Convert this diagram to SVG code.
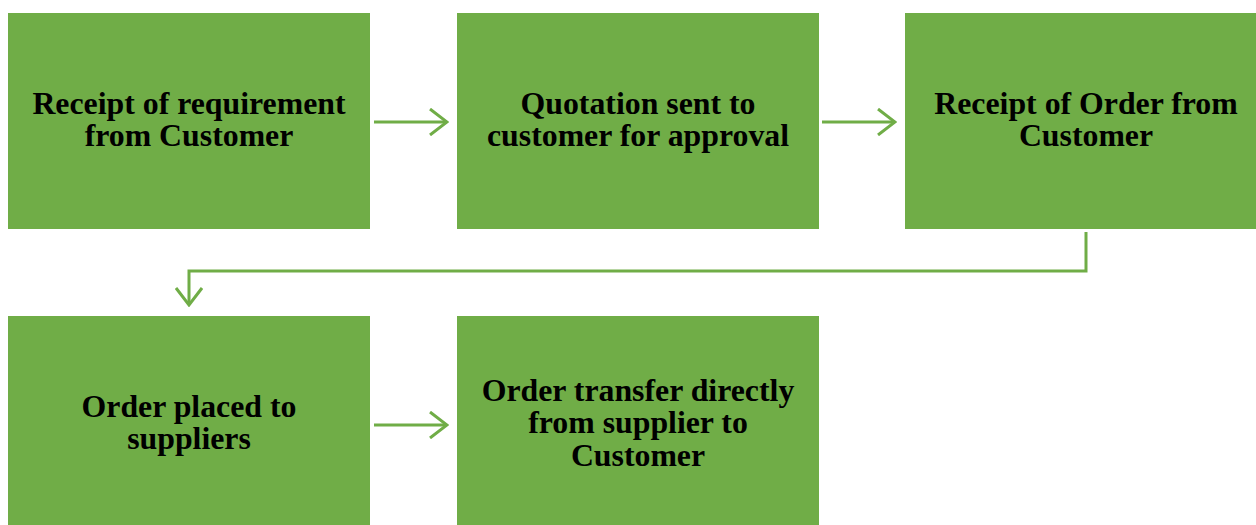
<svg xmlns="http://www.w3.org/2000/svg" width="1256" height="525" viewBox="0 0 1256 525">
<defs>
<style>
.box{fill:#70AD47;}
.lbl{font-family:"Liberation Serif","Times New Roman",serif;font-weight:bold;font-size:31.8px;fill:#000;text-anchor:middle;}
.conn{fill:none;stroke:#70AD47;stroke-width:3;}
</style>
<marker id="arr" viewBox="0 0 20 28" refX="18" refY="14" markerWidth="20" markerHeight="28" markerUnits="userSpaceOnUse" orient="auto">
<path d="M1,1 L18,14 L1,27" fill="none" stroke="#70AD47" stroke-width="3"/>
</marker>
</defs>
<rect width="1256" height="525" fill="#fff"/>
<g id="n1"><rect class="box" x="8" y="13" width="362" height="216"/>
<text class="lbl"><tspan x="189" y="114">Receipt of requirement</tspan><tspan x="189" y="146">from Customer</tspan></text></g>
<g id="n2"><rect class="box" x="457" y="13" width="362" height="216"/>
<text class="lbl"><tspan x="638" y="114">Quotation sent to</tspan><tspan x="638" y="146">customer for approval</tspan></text></g>
<g id="n3"><rect class="box" x="905" y="13" width="362" height="216"/>
<text class="lbl"><tspan x="1086" y="114">Receipt of Order from</tspan><tspan x="1086" y="146">Customer</tspan></text></g>
<g id="n4"><rect class="box" x="8" y="316" width="362" height="216"/>
<text class="lbl"><tspan x="189" y="417">Order placed to</tspan><tspan x="189" y="449">suppliers</tspan></text></g>
<g id="n5"><rect class="box" x="457" y="316" width="362" height="216"/>
<text class="lbl"><tspan x="638" y="401">Order transfer directly</tspan><tspan x="638" y="433">from supplier to</tspan><tspan x="638" y="466">Customer</tspan></text></g>
<g id="connectors">
<line class="conn" x1="374" y1="122" x2="447" y2="122" marker-end="url(#arr)"/>
<line class="conn" x1="822" y1="122" x2="895" y2="122" marker-end="url(#arr)"/>
<polyline class="conn" points="1086,232 1086,271 189,271 189,305" marker-end="url(#arr)"/>
<line class="conn" x1="374" y1="425" x2="447" y2="425" marker-end="url(#arr)"/>
</g>
</svg>
